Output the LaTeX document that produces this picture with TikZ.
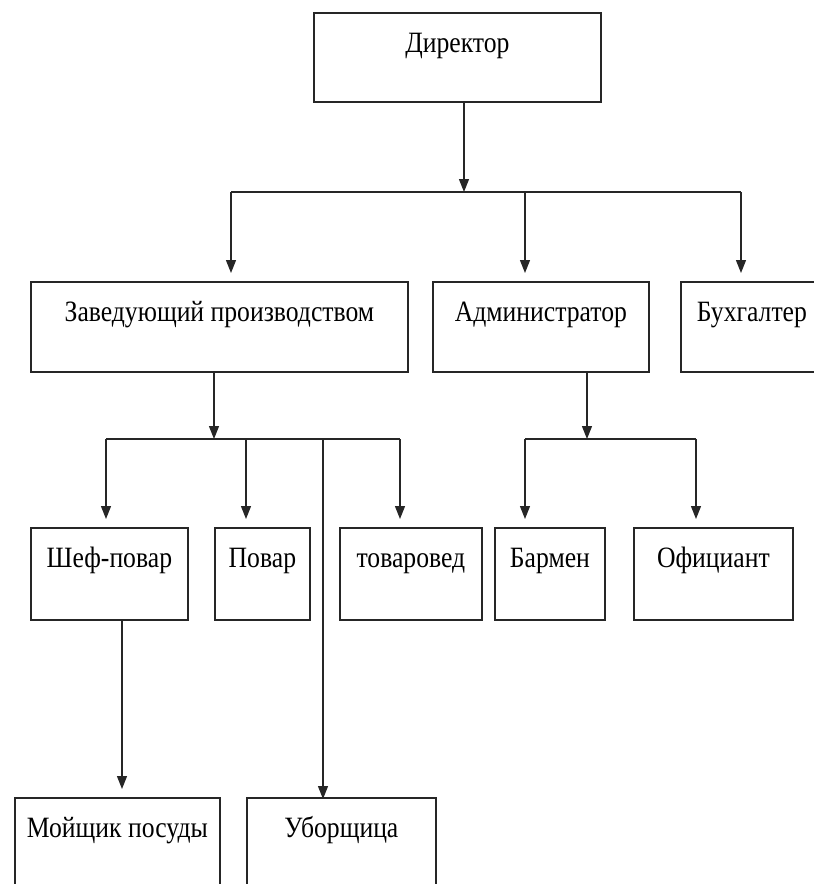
\documentclass[tikz,border=0pt]{standalone}
\usepackage{fontspec}
\setmainfont{Liberation Serif}[FakeStretch=0.87]
\usetikzlibrary{arrows.meta}
\tikzset{
  x=1pt, y=-1pt,
  box/.style={draw=black!85, line width=1.8pt, inner sep=0pt, text height=40pt,
    anchor=north west, font=\fontsize{29.5}{32}\selectfont},
  conn/.style={draw=black!85, line width=1.3pt},
  arr/.style={conn, -{Triangle[length=13pt,width=10pt]}},
}
\begin{document}
\begin{tikzpicture}
\useasboundingbox (0,0) rectangle (814,884);
\clip (0,0) rectangle (814,884);
\fill[white] (0,0) rectangle (814,884);
% boxes
\node[box, minimum width=287pt, text depth=49pt] (dir) at (313,12) {Директор};
\node[box, minimum width=377pt, text depth=50pt] (zav) at (30,281) {Заведующий производством};
\node[box, minimum width=216pt, text depth=50pt] (adm) at (432,281) {Администратор};
\node[box, minimum width=142pt, text depth=50pt] (buh) at (680,281) {Бухгалтер};
\node[box, minimum width=157pt, text depth=52pt] (shef) at (30,527) {Шеф-повар};
\node[box, minimum width=95pt, text depth=52pt] (pov) at (214,527) {Повар};
\node[box, minimum width=142pt, text depth=52pt] (tov) at (339,527) {товаровед};
\node[box, minimum width=110pt, text depth=52pt] (barm) at (494,527) {Бармен};
\node[box, minimum width=159pt, text depth=52pt] (ofic) at (633,527) {Официант};
\node[box, minimum width=205pt, text depth=110pt] (moy) at (14,797) {Мойщик посуды};
\node[box, minimum width=189pt, text depth=110pt] (ubor) at (246,797) {Уборщица};
% junction coordinates
\coordinate (j1) at (464,192);
\coordinate (a1) at (231,192);
\coordinate (a2) at (525,192);
\coordinate (a3) at (741,192);
\coordinate (j2) at (214,439);
\coordinate (b1) at (106,439);
\coordinate (b2) at (246,439);
\coordinate (b3) at (323,439);
\coordinate (b4) at (400,439);
\coordinate (j3) at (587,439);
\coordinate (c1) at (525,439);
\coordinate (c2) at (696,439);
\coordinate (s1) at (122,619);
% level 1 -> 2
\draw[arr] (dir.south -| j1) -- (j1);
\draw[conn] (a1) -- (a3);
\draw[arr, shorten >=8pt] (a1) -- (a1 |- zav.north);
\draw[arr, shorten >=8pt] (a2) -- (a2 |- adm.north);
\draw[arr, shorten >=8pt] (a3) -- (a3 |- buh.north);
% Заведующий -> level 3
\draw[arr] (zav.south -| j2) -- (j2);
\draw[conn] (b1) -- (b4);
\draw[arr, shorten >=8pt] (b1) -- (b1 |- shef.north);
\draw[arr, shorten >=8pt] (b2) -- (b2 |- pov.north);
\draw[arr, shorten >=8pt] (b4) -- (b4 |- tov.north);
\draw[arr, shorten >=-2pt] (b3) -- (b3 |- ubor.north);
% Администратор -> level 3
\draw[arr] (adm.south -| j3) -- (j3);
\draw[conn] (c1) -- (c2);
\draw[arr, shorten >=8pt] (c1) -- (c1 |- barm.north);
\draw[arr, shorten >=8pt] (c2) -- (c2 |- ofic.north);
% Шеф-повар -> Мойщик посуды
\draw[arr, shorten >=8pt] (shef.south -| s1) -- (s1 |- moy.north);
\end{tikzpicture}
\end{document}
